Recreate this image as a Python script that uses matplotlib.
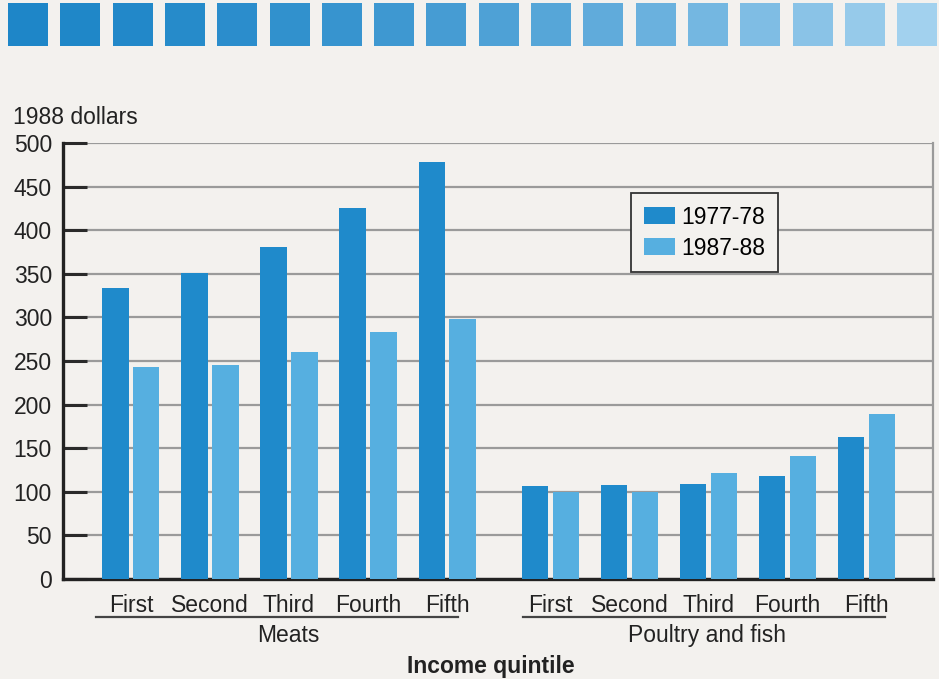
import matplotlib.pyplot as plt
from matplotlib.patches import Rectangle
from matplotlib.colors import to_rgb
import numpy as np

plt.rcParams['font.family'] = ['Liberation Sans', 'DejaVu Sans']

quintiles = ["First", "Second", "Third", "Fourth", "Fifth"]
groups = ["Meats", "Poultry and fish"]
series = ["1977-78", "1987-88"]
meats_7778 = [334, 351, 381, 425, 478]
meats_8788 = [243, 245, 260, 283, 298]
poultry_7778 = [107, 108, 109, 118, 163]
poultry_8788 = [100, 100, 122, 141, 189]

paper = "#f3f1ee"
dark = "#1f8acb"
light = "#56afe0"

fig = plt.figure(figsize=(9.39, 6.79), dpi=100, facecolor=paper)

# strip of blue squares at the top, darker on the left
c0, c1 = np.array(to_rgb("#1e86c8")), np.array(to_rgb("#a2d1ee"))
for i in range(18):
    t = (i / 17) ** 1.6
    fig.patches.append(Rectangle((8 + i * 52.3, 679 - 46), 40, 43,
                                 transform=None, facecolor=c0 + (c1 - c0) * t,
                                 edgecolor="none"))

ax = fig.add_axes([63 / 939, 1 - 579 / 679, 870 / 939, 436 / 679])
ax.set_facecolor(paper)

shift = 5.31
pos_meats = np.arange(5)
pos_poultry = np.arange(5) + shift
w = 0.33
off = 0.196
ax.bar(pos_meats - off, meats_7778, w, color=dark, zorder=3, label=series[0])
ax.bar(pos_meats + off, meats_8788, w, color=light, zorder=3, label=series[1])
ax.bar(pos_poultry - off, poultry_7778, w, color=dark, zorder=3)
ax.bar(pos_poultry + off, poultry_8788, w, color=light, zorder=3)

ax.set_xlim(-0.86, 10.15)
ax.set_ylim(0, 500)
ax.set_yticks(range(0, 501, 50))
ax.yaxis.grid(True, color="#9a9a9a", linewidth=1.6, zorder=0)
ax.tick_params(axis="y", direction="in", length=17, width=2.2, color="#2a2a2a",
               pad=8, labelsize=16.5, labelcolor="#222222")

ax.set_xticks(np.concatenate([pos_meats, pos_poultry]))
ax.set_xticklabels(quintiles * 2)
ax.tick_params(axis="x", length=0, pad=11, labelsize=16.5, labelcolor="#222222")

for side in ["left", "bottom"]:
    ax.spines[side].set_color("#222222")
    ax.spines[side].set_linewidth(2.4)
ax.spines["top"].set_visible(False)
ax.spines["right"].set_color("#9a9a9a")
ax.spines["right"].set_linewidth(1.6)

tr = ax.get_xaxis_transform()
for start, name, lo, hi, mid in [(0, groups[0], -0.44, 4.14, 1.99),
                                 (shift, groups[1], -0.35, 4.23, 1.98)]:
    ax.plot([start + lo, start + hi], [-0.087, -0.087], color="#444444",
            linewidth=1.6, transform=tr, clip_on=False)
    ax.text(start + mid, -0.130, name, transform=tr, ha="center",
            va="center", fontsize=16.5, color="#222222")

fig.text(491 / 939, 1 - 667 / 679, "Income quintile", ha="center", va="center",
         fontsize=16.5, fontweight="bold", color="#222222")
fig.text(13 / 939, 1 - 118 / 679, "1988 dollars", ha="left", va="center",
         fontsize=16.5, color="#222222")

leg = ax.legend(loc="upper left", bbox_to_anchor=(631 / 939, 1 - 193 / 679),
                bbox_transform=fig.transFigure, fontsize=16.5, frameon=True,
                fancybox=False, handlelength=1.35, handleheight=0.8,
                handletextpad=0.3, labelspacing=0.35, borderpad=0.55,
                borderaxespad=0)
leg.get_frame().set_edgecolor("#333333")
leg.get_frame().set_linewidth(1.3)
leg.get_frame().set_facecolor(paper)
leg.get_frame().set_alpha(1)

fig.savefig("out.png", dpi=100, facecolor=paper)
